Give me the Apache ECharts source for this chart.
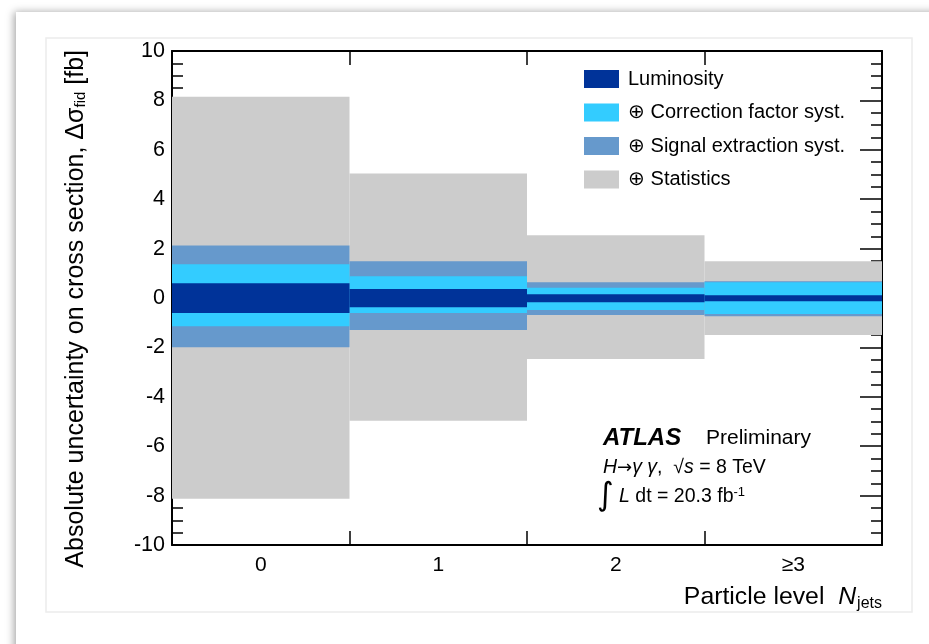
<!DOCTYPE html>
<html>
<head>
<meta charset="utf-8">
<script src="https://cdn.jsdelivr.net/npm/echarts@6/dist/echarts.min.js"></script>
<style>html,body{margin:0;padding:0;background:#fff;}#c{width:929px;height:644px;}</style>
</head>
<body>
<div id="c"></div>
<script>
// Categories (particle-level jet multiplicity)
const categories = ['0', '1', '2', '≥3'];
// Upward / downward absolute uncertainties [fb], cumulative in quadrature
const lumiUp = [0.60, 0.36, 0.15, 0.11];
const lumiDown = [-0.61, -0.37, -0.17, -0.13];
const corrUp = [1.37, 0.88, 0.42, 0.64];
const corrDown = [-1.14, -0.61, -0.49, -0.65];
const sigUp = [2.13, 1.49, 0.64, 0.68];
const sigDown = [-1.99, -1.30, -0.69, -0.74];
const statUp = [8.15, 5.04, 2.54, 1.49];
const statDown = [-8.13, -4.97, -2.47, -1.50];
const yTicks = [-10, -8, -6, -4, -2, 0, 2, 4, 6, 8, 10];

const names = ['Luminosity', '⊕ Correction factor syst.', '⊕ Signal extraction syst.', '⊕ Statistics'];
const colors = {lumi: '#003399', corr: '#33ccff', sig: '#6699cc', stat: '#cccccc'};
const FONT = '"Liberation Sans", Arial, Helvetica, sans-serif';

function band(name, data, color) {
  return {
    name: name, type: 'bar', data: data,
    barWidth: '100%', barGap: '-100%', barCategoryGap: 0,
    itemStyle: {color: color}, emphasis: {disabled: true}, silent: true,
    animation: false
  };
}

const chart = echarts.init(document.getElementById('c'), null, {renderer: 'canvas'});
const yCommon = {
  type: 'value', min: yTicks[0], max: yTicks[yTicks.length - 1], interval: 2,
  splitLine: {show: false},
  axisLine: {show: true, onZero: false, lineStyle: {color: '#000', width: 2}},
  axisTick: {show: true, inside: true, length: 22, lineStyle: {color: '#000', width: 1.5}},
  minorTick: {show: true, splitNumber: 4, length: 11, lineStyle: {color: '#000', width: 1.5}},
  minorSplitLine: {show: false}
};
const option = {
  backgroundColor: '#fff',
  animation: false,
  grid: {left: 172, top: 51, width: 710, height: 494},
  legend: {
    orient: 'vertical', left: 584, top: 69, padding: 0,
    itemWidth: 35, itemHeight: 18, itemGap: 13.5,
    icon: 'rect', selectedMode: false,
    data: names,
    textStyle: {fontFamily: FONT, fontSize: 20, color: '#000', padding: [0, 0, 0, 4]}
  },
  xAxis: [{
    type: 'category', data: categories, position: 'bottom',
    axisLine: {show: true, onZero: false, lineStyle: {color: '#000', width: 2}},
    axisTick: {show: true, inside: true, length: 14, lineStyle: {color: '#000', width: 1.5}},
    axisLabel: {fontFamily: FONT, fontSize: 21, color: '#000', margin: 10},
    splitLine: {show: false}
  }, {
    type: 'category', data: categories, position: 'top',
    axisLine: {show: true, onZero: false, lineStyle: {color: '#000', width: 2}},
    axisTick: {show: true, inside: true, length: 14, lineStyle: {color: '#000', width: 1.5}},
    axisLabel: {show: false},
    splitLine: {show: false}
  }],
  yAxis: [Object.assign({}, yCommon, {
    position: 'left',
    axisLabel: {fontFamily: FONT, fontSize: 21.5, color: '#000', margin: 7}
  }), Object.assign({}, yCommon, {
    position: 'right',
    axisLabel: {show: false}
  })],
  series: [
    band(names[3], statUp, colors.stat), band(names[3], statDown, colors.stat),
    band(names[2], sigUp, colors.sig), band(names[2], sigDown, colors.sig),
    band(names[1], corrUp, colors.corr), band(names[1], corrDown, colors.corr),
    band(names[0], lumiUp, colors.lumi), band(names[0], lumiDown, colors.lumi)
  ],
  graphic: [
    {type: 'rect', z: -10, silent: true, shape: {x: 16, y: 12, width: 960, height: 700},
     style: {fill: '#fff', shadowBlur: 8, shadowColor: 'rgba(0,0,0,0.35)', shadowOffsetX: -2, shadowOffsetY: 0}},
    {type: 'rect', z: -9, silent: true, shape: {x: 46, y: 38, width: 866, height: 574},
     style: {fill: '#fff', stroke: '#ececec', lineWidth: 1.5}},
    {type: 'text', silent: true, x: 76, y: 50, rotation: Math.PI / 2,
     style: {
       text: 'Absolute uncertainty on cross section, Δ{g|σ}{s|fid} [fb]',
       align: 'right', verticalAlign: 'middle',
       font: '25px ' + FONT, fill: '#000',
       rich: {
         g: {fontFamily: FONT, fontSize: 25, fill: '#000'},
         s: {fontFamily: FONT, fontSize: 15, fill: '#000', padding: [10, 0, 0, 0]}
       }
     }},
    {type: 'text', silent: true, x: 882, y: 597,
     style: {
       text: 'Particle level  {i|N}{s|jets}',
       align: 'right', verticalAlign: 'middle',
       font: '24.8px ' + FONT, fill: '#000',
       rich: {
         i: {fontFamily: FONT, fontSize: 24.8, fontStyle: 'italic', fill: '#000'},
         s: {fontFamily: FONT, fontSize: 16, fill: '#000', padding: [14, 0, 0, 1]}
       }
     }},
    {type: 'text', silent: true, x: 603, y: 438,
     style: {text: 'ATLAS', verticalAlign: 'middle', font: 'italic bold 24px ' + FONT, fill: '#000'}},
    {type: 'text', silent: true, x: 706, y: 438,
     style: {text: 'Preliminary', verticalAlign: 'middle', font: '21px ' + FONT, fill: '#000'}},
    {type: 'text', silent: true, x: 603, y: 468,
     style: {
       text: '{i|H}{a|→}{i|γ γ},  √{i|s} = 8 TeV', verticalAlign: 'middle',
       font: '19.5px ' + FONT, fill: '#000',
       rich: {
         i: {fontFamily: FONT, fontSize: 19.5, fontStyle: 'italic', fill: '#000'},
         a: {fontFamily: '"DejaVu Sans", sans-serif', fontSize: 18, fill: '#000'}
       }
     }},
    {type: 'text', silent: true, x: 597, y: 497,
     style: {
       text: '{int|∫} {i|L} dt = 20.3 fb{sup|-1}', verticalAlign: 'middle',
       font: '19.5px ' + FONT, fill: '#000',
       rich: {
         int: {fontFamily: '"DejaVu Sans", sans-serif', fontSize: 32, fill: '#000'},
         i: {fontFamily: FONT, fontSize: 19.5, fontStyle: 'italic', fill: '#000'},
         sup: {fontFamily: FONT, fontSize: 13, fill: '#000', padding: [0, 0, 10, 0]}
       }
     }}
  ]
};
chart.setOption(option);
</script>
</body>
</html>
